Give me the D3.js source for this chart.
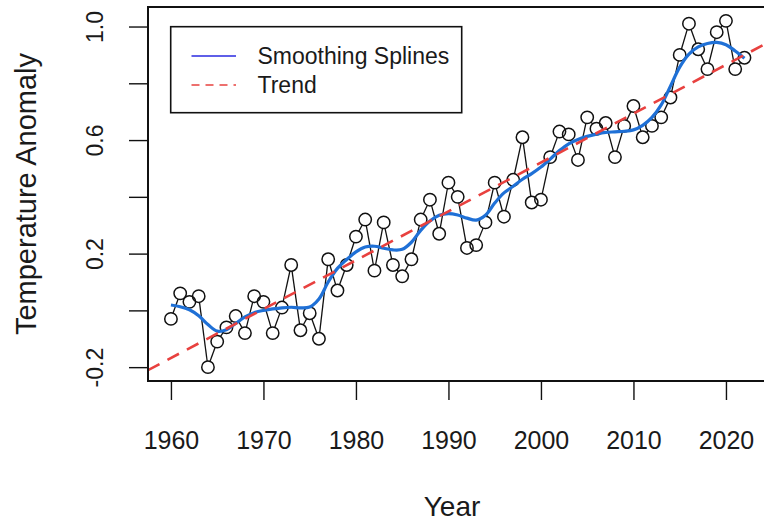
<!DOCTYPE html>
<html>
<head>
<meta charset="utf-8">
<script src="https://cdn.jsdelivr.net/npm/d3@7"></script>
<style>
  body { margin: 0; background: #ffffff; }
  svg { display: block; }
  text { font-family: "Liberation Sans", Arial, sans-serif; fill: #1a1a1a; }
</style>
</head>
<body>
<svg id="chart" width="764" height="525"></svg>
<script>
// Annual global temperature anomaly, 1960-2022
const years = d3.range(1960, 2023);
const anomaly = [
  -0.03, 0.06, 0.03, 0.05, -0.20, -0.11, -0.06, -0.02, -0.08, 0.05,
   0.03, -0.08, 0.01, 0.16, -0.07, -0.01, -0.10, 0.18, 0.07, 0.16,
   0.26, 0.32, 0.14, 0.31, 0.16, 0.12, 0.18, 0.32, 0.39, 0.27,
   0.45, 0.40, 0.22, 0.23, 0.31, 0.45, 0.33, 0.46, 0.61, 0.38,
   0.39, 0.54, 0.63, 0.62, 0.53, 0.68, 0.64, 0.66, 0.54, 0.65,
   0.72, 0.61, 0.65, 0.68, 0.75, 0.90, 1.01, 0.92, 0.85, 0.98,
   1.02, 0.85, 0.89
];
// Smoothing-spline fit, one value per year
const smoothed = [
   0.019, 0.013, 0.002, -0.019, -0.050, -0.073, -0.068, -0.046, -0.023, -0.008,
   0.000, 0.005, 0.009, 0.011, 0.009, 0.012, 0.040, 0.100, 0.148, 0.179,
   0.206, 0.223, 0.226, 0.219, 0.213, 0.215, 0.240, 0.282, 0.315, 0.335,
   0.341, 0.336, 0.325, 0.318, 0.335, 0.378, 0.414, 0.437, 0.462, 0.482,
   0.505, 0.533, 0.563, 0.587, 0.602, 0.613, 0.621, 0.627, 0.629, 0.631,
   0.636, 0.652, 0.680, 0.724, 0.790, 0.857, 0.903, 0.928, 0.940, 0.944,
   0.936, 0.914, 0.888
];
const xTicks = [1960, 1970, 1980, 1990, 2000, 2010, 2020];
const yTicks = [-0.2, 0.0, 0.2, 0.4, 0.6, 0.8, 1.0];
const yTickLabels = ["-0.2", "", "0.2", "", "0.6", "", "1.0"];
const legendLabels = ["Smoothing Splines", "Trend"];
const xTitle = "Year";
const yTitle = "Temperature Anomaly";

const svg = d3.select("#chart");
const plot = { left: 148, top: 7, right: 767.4, bottom: 381 };

// axis limits padded 4% beyond the data range on each side
function padded(ext) {
  const p = (ext[1] - ext[0]) * 0.04;
  return [ext[0] - p, ext[1] + p];
}
const x = d3.scaleLinear().domain(padded(d3.extent(years))).range([plot.left, plot.right]);
const y = d3.scaleLinear().domain(padded(d3.extent(anomaly))).range([plot.bottom, plot.top]);

const pts = years.map((yr, i) => ({ yr, v: anomaly[i] }));

// least-squares trend line
const mx = d3.mean(years), my = d3.mean(anomaly);
const slope = d3.sum(years, (yr, i) => (yr - mx) * (anomaly[i] - my)) /
              d3.sum(years, yr => (yr - mx) * (yr - mx));
const intercept = my - slope * mx;

svg.append("defs").append("clipPath").attr("id", "plotclip")
  .append("rect")
  .attr("x", plot.left).attr("y", plot.top)
  .attr("width", plot.right - plot.left).attr("height", plot.bottom - plot.top);

const gPlot = svg.append("g").attr("clip-path", "url(#plotclip)");

// observed series: connecting segments stop at the circle edges
const r = 6.2;
const segs = [];
for (let i = 0; i < pts.length - 1; i++) {
  const x0 = x(pts[i].yr), y0 = y(pts[i].v), x1 = x(pts[i + 1].yr), y1 = y(pts[i + 1].v);
  const len = Math.hypot(x1 - x0, y1 - y0);
  if (len <= 2 * r) continue;
  const ux = (x1 - x0) / len, uy = (y1 - y0) / len;
  segs.push([x0 + ux * r, y0 + uy * r, x1 - ux * r, y1 - uy * r]);
}
gPlot.append("g").selectAll("line").data(segs).join("line")
  .attr("x1", d => d[0]).attr("y1", d => d[1])
  .attr("x2", d => d[2]).attr("y2", d => d[3])
  .attr("stroke", "#111").attr("stroke-width", 1.3);

gPlot.append("g").selectAll("circle").data(pts).join("circle")
  .attr("cx", d => x(d.yr)).attr("cy", d => y(d.v)).attr("r", r)
  .attr("fill", "none").attr("stroke", "#111").attr("stroke-width", 1.5);

// smoothing spline
gPlot.append("path")
  .datum(years.map((yr, i) => [yr, smoothed[i]]))
  .attr("fill", "none").attr("stroke", "#1f70d6").attr("stroke-width", 3.2)
  .attr("d", d3.line().x(d => x(d[0])).y(d => y(d[1])).curve(d3.curveCatmullRom.alpha(0.5)));

// trend line across the full plot width
const xd = x.domain();
gPlot.append("line")
  .attr("x1", x(xd[0])).attr("y1", y(intercept + slope * xd[0]))
  .attr("x2", x(xd[1])).attr("y2", y(intercept + slope * xd[1]))
  .attr("stroke", "#e8413f").attr("stroke-width", 2.6)
  .attr("stroke-dasharray", "13,9");

// axes
const tickLen = 19;
const xAxis = svg.append("g").attr("transform", `translate(0,${plot.bottom})`)
  .call(d3.axisBottom(x).tickValues(xTicks).tickSize(tickLen).tickFormat(d3.format("d")));
xAxis.select(".domain").remove();
xAxis.selectAll("line").attr("stroke", "#111").attr("stroke-width", 1.4);
xAxis.selectAll("text")
  .attr("font-size", 25).attr("fill", "#1a1a1a")
  .attr("y", 68).attr("dy", null);

const yAxis = svg.append("g").attr("transform", `translate(${plot.left},0)`)
  .call(d3.axisLeft(y).tickValues(yTicks).tickSize(tickLen).tickFormat((d, i) => yTickLabels[i]));
yAxis.select(".domain").remove();
yAxis.selectAll("line").attr("stroke", "#111").attr("stroke-width", 1.4);
yAxis.selectAll("text")
  .attr("font-size", 23).attr("fill", "#1a1a1a")
  .attr("x", null).attr("dy", null)
  .attr("text-anchor", "middle")
  .attr("transform", "translate(-45,0) rotate(-90)");

// plot frame
svg.append("rect")
  .attr("x", plot.left).attr("y", plot.top)
  .attr("width", plot.right - plot.left).attr("height", plot.bottom - plot.top)
  .attr("fill", "none").attr("stroke", "#111").attr("stroke-width", 2);

// axis titles
svg.append("text").attr("x", 452).attr("y", 516)
  .attr("text-anchor", "middle").attr("font-size", 28).text(xTitle);
svg.append("text")
  .attr("transform", `translate(36,${(plot.top + plot.bottom) / 2}) rotate(-90)`)
  .attr("text-anchor", "middle").attr("font-size", 29).text(yTitle);

// legend
const lg = svg.append("g");
lg.append("rect").attr("x", 170.7).attr("y", 26.7).attr("width", 291).attr("height", 86)
  .attr("fill", "#fff").attr("stroke", "#111").attr("stroke-width", 1.6);
const legendStyles = [
  { color: "#2a2ae0", dash: null },
  { color: "#e8413f", dash: "8,6" }
];
legendLabels.forEach((lab, i) => {
  const cy = 56 + i * 29;
  lg.append("line").attr("x1", 191.5).attr("x2", 236).attr("y1", cy).attr("y2", cy)
    .attr("stroke", legendStyles[i].color).attr("stroke-width", 1.6)
    .attr("stroke-dasharray", legendStyles[i].dash);
  lg.append("text").attr("x", 257.5).attr("y", cy + 8).attr("font-size", 23).text(lab);
});
</script>
</body>
</html>
